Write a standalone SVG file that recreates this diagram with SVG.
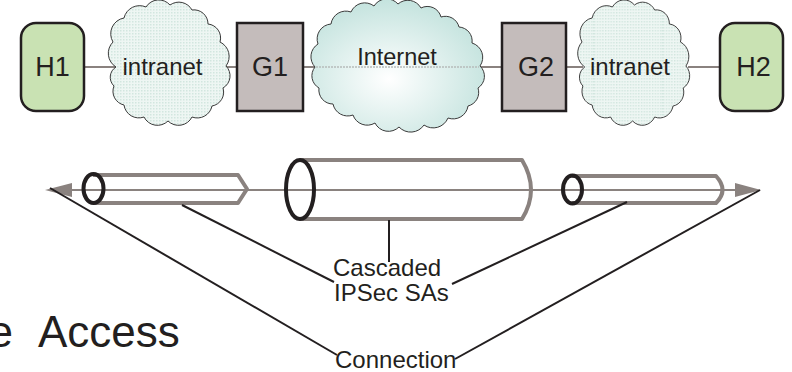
<svg xmlns="http://www.w3.org/2000/svg" width="792" height="372" viewBox="0 0 792 372">
<defs>
<radialGradient id="netGrad" cx="0.45" cy="0.6" r="0.6">
<stop offset="0" stop-color="#ffffff"/>
<stop offset="1" stop-color="#c4e3de"/>
</radialGradient>
<pattern id="dots" width="3" height="3" patternUnits="userSpaceOnUse">
<rect width="3" height="3" fill="#eef6f3"/>
<rect width="1.5" height="1.5" fill="#d2e6df"/>
</pattern>
<path id="cloudA" d="M116,67 A16,16 0 0 1 113,42 A16,16 0 0 1 124,18 A16,16 0 0 1 146,7 A15,15 0 0 1 170,5 A15,15 0 0 1 192,10 A14,14 0 0 1 208,24 A14,14 0 0 1 220,42 A16,16 0 0 1 226,66 A14,14 0 0 1 223,88 A14,14 0 0 1 212,106 A15,15 0 0 1 192,117 A15,15 0 0 1 168,121 A15,15 0 0 1 144,117 A15,15 0 0 1 124,105 A14,14 0 0 1 114,86 A12,12 0 0 1 116,67 Z"/>
</defs>
<style>
.box{stroke:#231f20;stroke-width:2.5}
.host{fill:#c9e2b3}
.gw{fill:#c4bcbb}
.cloud{stroke:#3a3a3a;stroke-width:1;vector-effect:non-scaling-stroke}
.link{stroke:#8a827f;stroke-width:2;fill:none}
.tube{stroke:#8a827f;stroke-width:4;fill:none;stroke-linejoin:round}
.ring{stroke:#231f20;stroke-width:4;fill:none}
.callout{stroke:#231f20;stroke-width:2;fill:none}
.lbl{font-family:"Liberation Sans",Arial,sans-serif;fill:#231f20}
</style>
<g id="connectors">
<line class="link" x1="84" y1="67" x2="116" y2="67"/>
<line class="link" x1="226" y1="67" x2="237" y2="67"/>
<line class="link" x1="303" y1="67" x2="316" y2="67"/>
<line class="link" x1="480" y1="67" x2="502" y2="67"/>
<line class="link" x1="566" y1="67" x2="583" y2="67"/>
<line class="link" x1="688" y1="67" x2="720" y2="67"/>
</g>
<g id="H1">
<rect class="box host" x="21" y="23" width="63" height="88" rx="15"/>
<text class="lbl" x="52.5" y="76" font-size="27" text-anchor="middle">H1</text>
</g>
<g id="intranet1">
<use href="#cloudA" class="cloud" fill="url(#dots)"/>
<text class="lbl" x="162.5" y="75" font-size="24" text-anchor="middle">intranet</text>
</g>
<g id="G1">
<rect class="box gw" x="237" y="23" width="66" height="88"/>
<text class="lbl" x="270" y="76" font-size="27" text-anchor="middle">G1</text>
</g>
<g id="Internet">
<path class="cloud" fill="url(#netGrad)" d="M315,67 A15,15 0 0 1 318,44 A15,15 0 0 1 331,24 A15,15 0 0 1 351,12 A15,15 0 0 1 374,6 A15,15 0 0 1 398,4 A15,15 0 0 1 421,8 A14,14 0 0 1 441,17 A14,14 0 0 1 459,27 A14,14 0 0 1 472,43 A15,15 0 0 1 480,66 A14,14 0 0 1 478,88 A14,14 0 0 1 468,106 A15,15 0 0 1 448,118 A16,16 0 0 1 424,125 A16,16 0 0 1 399,127 A15,15 0 0 1 375,123 A15,15 0 0 1 353,115 A15,15 0 0 1 333,104 A14,14 0 0 1 319,88 A14,14 0 0 1 315,67 Z"/>
<line x1="316" y1="67" x2="479" y2="67" stroke="#b7bcba" stroke-width="1.5" stroke-dasharray="2 1"/>
<text class="lbl" x="397" y="65" font-size="23.5" text-anchor="middle">Internet</text>
</g>
<g id="G2">
<rect class="box gw" x="502" y="23" width="64" height="88"/>
<text class="lbl" x="536" y="76" font-size="27" text-anchor="middle">G2</text>
</g>
<g id="intranet2">
<use href="#cloudA" class="cloud" fill="url(#dots)" transform="translate(582,0) scale(0.92,1) translate(-113,0)"/>
<text class="lbl" x="630" y="75" font-size="24" text-anchor="middle">intranet</text>
</g>
<g id="H2">
<rect class="box host" x="720" y="23" width="63" height="88" rx="15"/>
<text class="lbl" x="753.5" y="76" font-size="27" text-anchor="middle">H2</text>
</g>
<g id="connection-arrow">
<line class="link" x1="70" y1="190" x2="737" y2="190" stroke-width="2.5"/>
<polygon points="45,190 72,183 72,197" fill="#8a827f"/>
<polygon points="761,190 735,183 735,197" fill="#8a827f"/>
</g>
<g id="tube1">
<path class="tube" d="M93,175 H238 L247,189 L238,203 H93"/>
<ellipse class="ring" cx="93.5" cy="188.5" rx="10" ry="14.5"/>
</g>
<g id="tube2">
<path class="tube" d="M300,160 H522 Q540,190 522,219 H300"/>
<ellipse class="ring" cx="300" cy="189.5" rx="14" ry="29.5"/>
</g>
<g id="tube3">
<path class="tube" d="M572,176 H716 Q729,190 716,203 H572"/>
<ellipse class="ring" cx="572.5" cy="189.5" rx="9.5" ry="14"/>
</g>
<g id="callouts">
<line class="callout" x1="182" y1="205" x2="334" y2="282"/>
<line class="callout" x1="389" y1="220" x2="389" y2="262"/>
<line class="callout" x1="627" y1="202" x2="452" y2="284"/>
<line class="callout" x1="50" y1="188" x2="337" y2="355"/>
<line class="callout" x1="760" y1="190" x2="455" y2="359"/>
</g>
<g id="labels">
<text class="lbl" x="333" y="276" font-size="24">Cascaded</text>
<text class="lbl" x="334" y="301" font-size="24">IPSec SAs</text>
<text class="lbl" x="335" y="368" font-size="24">Connection</text>
<text class="lbl" y="347" font-size="44"><tspan x="-11.5">e</tspan><tspan x="38">Access</tspan></text>
</g>
</svg>
